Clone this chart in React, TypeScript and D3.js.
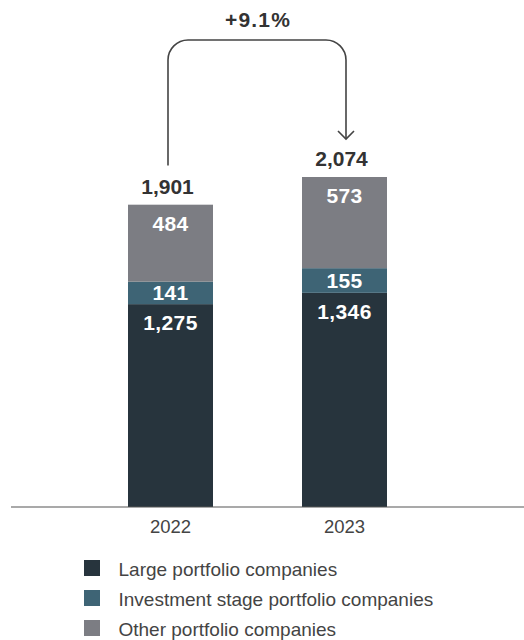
import React from "react";
import * as d3 from "d3";

const years = ["2022", "2023"];
const seriesNames = [
  "Large portfolio companies",
  "Investment stage portfolio companies",
  "Other portfolio companies",
];
const largeValues = [1275, 1346];
const investmentValues = [141, 155];
const otherValues = [484, 573];
const totals = [1901, 2074];
const changeLabel = "+9.1%";
const colors = ["#27343d", "#3e6475", "#7c7d83"];

const W = 524;
const H = 640;
const baseY = 507;
const FONT = "'Liberation Sans', Arial, Helvetica, sans-serif";

export default function App() {
  const x = d3.scalePoint<string>().domain(years).range([170.5, 344.5]);
  const y = d3.scaleLinear().domain([0, 2074]).range([baseY, 177]);
  const bw = 85;

  const rows = years.map((yr, i) => ({
    year: yr,
    large: largeValues[i],
    invest: investmentValues[i],
    other: otherValues[i],
  }));
  const stack = d3.stack<any>().keys(["large", "invest", "other"])(rows);
  const fmt = d3.format(",");

  const x0 = x("2022")! - 2.5;
  const x1 = x("2023")! + 1.5;
  const topY = 40;
  const r = 20;
  const arrowEnd = 139;
  const arrowPath = d3.path();
  arrowPath.moveTo(x0, y(totals[0]) - 39);
  arrowPath.lineTo(x0, topY + r);
  arrowPath.arcTo(x0, topY, x0 + r, topY, r);
  arrowPath.lineTo(x1 - r, topY);
  arrowPath.arcTo(x1, topY, x1, topY + r, r);
  arrowPath.lineTo(x1, arrowEnd);

  return (
    <svg
      width={W}
      height={H}
      style={{ position: "absolute", left: 0, top: 0, display: "block" }}
      fontFamily={FONT}
    >
      {stack.map((layer, li) =>
        layer.map((d, i) => (
          <rect
            key={`${li}-${i}`}
            x={x(years[i])! - bw / 2}
            y={y(d[1])}
            width={bw}
            height={y(d[0]) - y(d[1])}
            fill={colors[li]}
          />
        ))
      )}
      {stack.map((layer, li) =>
        layer.map((d, i) => {
          const v = d[1] - d[0];
          const ty =
            li === 1 ? (y(d[0]) + y(d[1])) / 2 + 7.5 : y(d[1]) + 26;
          return (
            <text
              key={`t${li}-${i}`}
              x={x(years[i])}
              y={ty}
              textAnchor="middle"
              fill="#ffffff"
              fontWeight="bold"
              fontSize={21}
              letterSpacing={0.4}
            >
              {fmt(v)}
            </text>
          );
        })
      )}
      {totals.map((t, i) => (
        <text
          key={`tot${i}`}
          x={x(years[i])! - 3}
          y={y(t) - 11}
          textAnchor="middle"
          fill="#333333"
          fontWeight="bold"
          fontSize={21}
        >
          {fmt(t)}
        </text>
      ))}
      <path d={arrowPath.toString()} fill="none" stroke="#444" strokeWidth={1.6} />
      <path
        d={`M${x1 - 8},${arrowEnd - 8} L${x1},${arrowEnd} L${x1 + 8},${arrowEnd - 8}`}
        fill="none"
        stroke="#444"
        strokeWidth={1.6}
      />
      <text
        x={(x0 + x1) / 2 + 1}
        y={26.5}
        textAnchor="middle"
        fill="#333333"
        fontWeight="bold"
        fontSize={21}
        letterSpacing={1.2}
      >
        {changeLabel}
      </text>
      <line x1={11} x2={524} y1={baseY} y2={baseY} stroke="#555" strokeWidth={1.2} />
      {years.map((yr) => (
        <text
          key={yr}
          x={x(yr)}
          y={533}
          textAnchor="middle"
          fill="#444"
          fontSize={18.5}
        >
          {yr}
        </text>
      ))}
      {seriesNames.map((s, i) => (
        <g key={s} transform={`translate(84, ${560 + i * 30})`}>
          <rect width={16} height={16} fill={colors[i]} />
          <text x={34.5} y={16} fill="#444" fontSize={19}>
            {s}
          </text>
        </g>
      ))}
    </svg>
  );
}
